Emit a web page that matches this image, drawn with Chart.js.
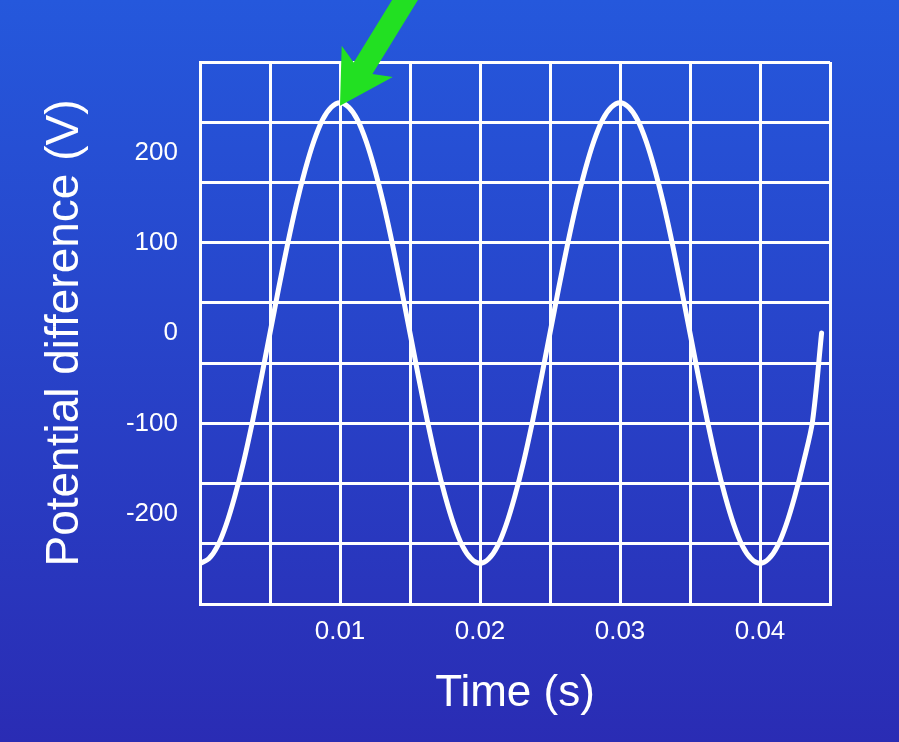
<!DOCTYPE html>
<html><head><meta charset="utf-8">
<script src="https://cdn.jsdelivr.net/npm/chart.js@4/dist/chart.umd.min.js"></script>
<style>html,body{margin:0;padding:0;background:#2a40c8;}#w{width:899px;height:742px;}</style>
</head><body><div id="w"><canvas id="c" width="899" height="742"></canvas></div>
<script>
const times = [0,0.000625,0.00125,0.001875,0.0025,0.003125,0.00375,0.004375,0.005,0.005625,0.00625,0.006875,0.0075,0.008125,0.00875,0.009375,
0.01,0.010625,0.01125,0.011875,0.0125,0.013125,0.01375,0.014375,0.015,0.015625,0.01625,0.016875,0.0175,0.018125,0.01875,0.019375,
0.02,0.020625,0.02125,0.021875,0.0225,0.023125,0.02375,0.024375,0.025,0.025625,0.02625,0.026875,0.0275,0.028125,0.02875,0.029375,
0.03,0.030625,0.03125,0.031875,0.0325,0.033125,0.03375,0.034375,0.035,0.035625,0.03625,0.036875,0.0375,0.038125,0.03875,0.039375,
0.04,0.040625,0.04125,0.041875,0.0425,0.043125,0.04375,0.0444];
const voltage = [-255,-250,-236,-212,-180,-142,-98,-50,0,50,98,142,180,212,236,250,
255,250,236,212,180,142,98,50,0,-50,-98,-142,-180,-212,-236,-250,
-255,-250,-236,-212,-180,-142,-98,-50,0,50,98,142,180,212,236,250,
255,250,236,212,180,142,98,50,0,-50,-98,-142,-180,-212,-236,-250,
-255,-250,-236,-212,-180,-142,-98,0];
const yTickLabels = [-200,-100,0,100,200];
const xTickLabels = [0.01,0.02,0.03,0.04];

const bg = {id:'bg',beforeDraw(ch){const c=ch.ctx;const g=c.createLinearGradient(0,0,0,742);g.addColorStop(0,'#2558dc');g.addColorStop(1,'#2a2cb4');c.save();c.fillStyle=g;c.fillRect(0,0,899,742);c.restore();}};
const arrow = {id:'arrow',afterDatasetsDraw(ch){const c=ch.ctx;const x=ch.scales.x.getPixelForValue(0.01),y=ch.scales.y.getPixelForValue(255)+3;
 c.save();c.fillStyle='#22e022';c.translate(x,y);c.rotate(Math.atan2(-(y),405-x));
 c.beginPath();c.moveTo(0,0);c.lineTo(52,-30);c.lineTo(44,-11);c.lineTo(150,-11);c.lineTo(150,11);c.lineTo(44,11);c.lineTo(52,30);c.closePath();c.fill();c.restore();}};

new Chart(document.getElementById('c'),{type:'line',
 data:{datasets:[{data:times.map((t,i)=>({x:t,y:voltage[i]})),borderColor:'#fff',borderWidth:5,pointRadius:0,tension:0.3,borderCapStyle:'round'}]},
 options:{responsive:false,animation:false,layout:{padding:{top:62,right:69,bottom:0,left:0}},
  plugins:{legend:{display:false},tooltip:{enabled:false}},
  scales:{
   x:{type:'linear',min:0,max:0.045,grid:{color:'#fff',lineWidth:3,drawTicks:false},border:{color:'#fff',width:3},
      afterBuildTicks(s){s.ticks=[];for(let i=0;i<=9;i++)s.ticks.push({value:i*0.005});},
      ticks:{color:'#fff',font:{family:'Liberation Sans',size:26},padding:12,maxRotation:0,autoSkip:false,callback:(v)=>{const r=xTickLabels.find(l=>Math.abs(l-v)<1e-9);return r===undefined?'':String(r);}},
      title:{display:true,text:'Time (s)',color:'#fff',font:{family:'Liberation Sans',size:44},padding:{top:0,bottom:22}},
      afterFit(s){s.height=138;}},
   y:{type:'linear',position:'left',min:-300,max:300,grid:{color:'#fff',lineWidth:3,drawTicks:false},border:{color:'#fff',width:3},
      afterBuildTicks(s){s.ticks=[];for(let i=0;i<=9;i++)s.ticks.push({value:-300+i*600/9});},
      ticks:{display:false},afterFit(s){s.width=0;}},
   yl:{type:'linear',position:'left',min:-300,max:300,grid:{display:false},border:{display:false},
      afterBuildTicks(s){s.ticks=yTickLabels.map(v=>({value:v}));},
      ticks:{color:'#fff',font:{family:'Liberation Sans',size:26},padding:14},
      title:{display:true,text:'Potential difference (V)',color:'#fff',font:{family:'Liberation Sans',size:46},padding:{top:38,bottom:12}},
      afterFit(s){s.width=200;}}
  }},
 plugins:[bg,arrow]});
</script></body></html>
